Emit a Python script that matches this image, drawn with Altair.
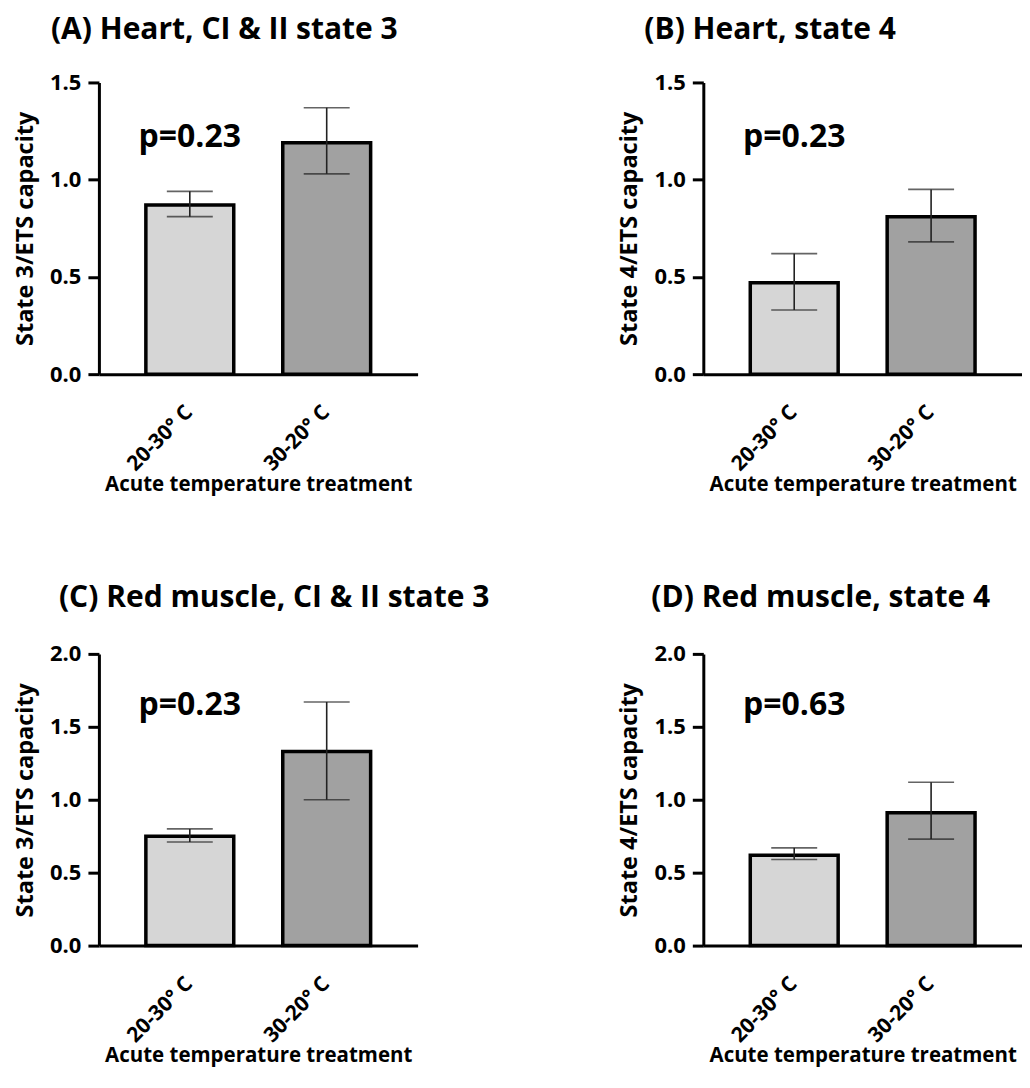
import altair as alt
import pandas as pd

categories = ["20-30° C", "30-20° C"]
panel_titles = ["(A) Heart, CI & II state 3", "(B) Heart, state 4",
                "(C) Red muscle, CI & II state 3", "(D) Red muscle, state 4"]
y_titles = ["State 3/ETS capacity", "State 4/ETS capacity",
            "State 3/ETS capacity", "State 4/ETS capacity"]
y_max = [1.5, 1.5, 2.0, 2.0]
means = [[0.87, 1.19], [0.47, 0.81], [0.75, 1.33], [0.62, 0.91]]
lows = [[0.81, 1.03], [0.33, 0.68], [0.71, 1.00], [0.59, 0.73]]
highs = [[0.94, 1.37], [0.62, 0.95], [0.80, 1.67], [0.67, 1.12]]
p_texts = ["p=0.23", "p=0.23", "p=0.23", "p=0.63"]
p_y = [1.17, 1.17, 1.58, 1.58]
title_dx = [-37, -48, -29, -41]
title_offset = [2, 2, 6, 6]

FONT = "Open Sans"
W, H = 330, 292
fills = ["#d6d6d6", "#a1a1a1"]


def panel(i):
    df = pd.DataFrame({"cat": categories, "mean": means[i],
                       "lo": lows[i], "hi": highs[i]})
    tdf = pd.DataFrame({"cat": [categories[0]], "y": [p_y[i]], "t": [p_texts[i]]})
    ticks = [k * 0.5 for k in range(int(y_max[i] / 0.5) + 1)]
    xenc = alt.X("cat:N", sort=categories,
                 scale=alt.Scale(range=[11, W], paddingInner=0.358, paddingOuter=0.343),
                 axis=alt.Axis(title="Acute temperature treatment", labelAngle=-45,
                               ticks=False, domainWidth=3, domainColor="black",
                               labelFont=FONT, labelFontSize=21, labelFontWeight="bold",
                               labelColor="black", labelPadding=27, labelOffset=-8,
                               titleFont=FONT, titleFontSize=20.5, titleFontWeight="bold",
                               titleColor="black", titlePadding=0))
    yscale = alt.Scale(domain=[0, y_max[i]], nice=False)
    yaxis = alt.Axis(title=y_titles[i], values=ticks, format=".1f", grid=False,
                     offset=-11, domainWidth=3, domainColor="black",
                     tickWidth=3, tickSize=11, tickColor="black",
                     labelFont=FONT, labelFontSize=22, labelFontWeight="bold",
                     labelColor="black", labelPadding=7,
                     titleFont=FONT, titleFontSize=23.5, titleFontWeight="bold",
                     titleColor="black", titlePadding=12)
    base = alt.Chart(df)
    bars = base.mark_bar(stroke="black", strokeWidth=3.5).encode(
        x=xenc,
        y=alt.Y("mean:Q", scale=yscale, axis=yaxis),
        fill=alt.Fill("cat:N", scale=alt.Scale(domain=categories, range=fills), legend=None),
    )
    rules = base.mark_rule(color="#222222", strokeWidth=1.6).encode(
        x=alt.X("cat:N", sort=categories), y="lo:Q", y2="hi:Q")
    cap_lo = base.mark_tick(color="#222222", thickness=1.6, size=46).encode(
        x=alt.X("cat:N", sort=categories), y="lo:Q")
    cap_hi = base.mark_tick(color="#222222", thickness=1.6, size=46).encode(
        x=alt.X("cat:N", sort=categories), y="hi:Q")
    ptext = alt.Chart(tdf).mark_text(font=FONT, fontSize=32, fontWeight="bold",
                                     baseline="alphabetic", align="center",
                                     color="black").encode(
        x=alt.X("cat:N", sort=categories), y="y:Q", text="t:N")
    return alt.layer(bars, rules, cap_lo, cap_hi, ptext).properties(
        width=W, height=H,
        title=alt.TitleParams(panel_titles[i], anchor="start", frame="group",
                              dx=title_dx[i], offset=title_offset[i],
                              baseline="alphabetic",
                              font=FONT, fontSize=30, fontWeight="bold", color="black"),
    )


chart = alt.concat(*[panel(i) for i in range(4)], columns=2,
                   spacing={"row": 280, "column": 275}, bounds="flush").properties(
    padding={"left": 5, "top": 7, "right": 0, "bottom": 0}).configure_view(stroke=None)

chart.save("out.html", embed_options={"renderer": "svg", "actions": False})
